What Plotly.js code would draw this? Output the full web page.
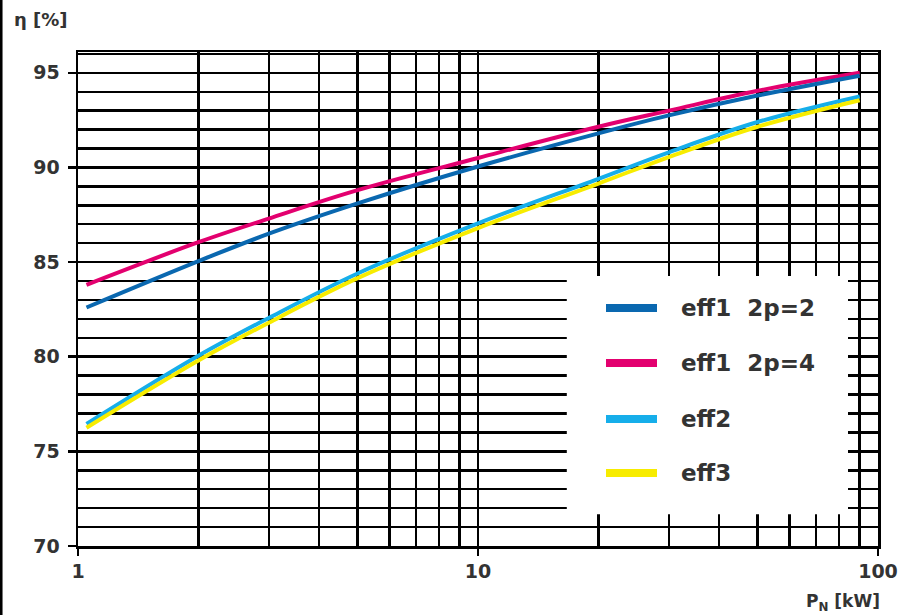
<!DOCTYPE html>
<html>
<head>
<meta charset="utf-8">
<script src="https://cdn.plot.ly/plotly-3.0.1.min.js"></script>
<style>html,body{margin:0;padding:0;background:#fff;}#chart{width:898px;height:615px;}</style>
</head>
<body>
<div id="chart"></div>
<script>
// Power [kW]
var powerKW = [1.05, 2, 3, 5, 10, 20, 30, 50, 90];
// Efficiency curves [%]
var eff1_2p2 = [82.6, 85.05, 86.5, 88.1, 90.05, 91.8, 92.75, 93.8, 94.85];
var eff1_2p4 = [83.8, 86.05, 87.3, 88.8, 90.5, 92.15, 93.0, 94.05, 95.0];
var eff2 = [76.45, 80.05, 82.05, 84.4, 87.05, 89.4, 90.8, 92.4, 93.75];
var eff3 = [76.25, 79.8, 81.8, 84.15, 86.8, 89.15, 90.55, 92.15, 93.55];

var seriesNames = ["eff1\u00a0\u00a02p=2", "eff1\u00a0\u00a02p=4", "eff2", "eff3"];
var seriesColors = ["#0a68b0", "#e3006f", "#16aeea", "#f7ec00"];

var xTickVals = [1, 10, 100];
var xTickText = ["1", "10", "100"];
var xMinorVals = [2, 3, 4, 5, 6, 7, 8, 9, 20, 30, 40, 50, 60, 70, 80, 90];
var yTickVals = [70, 75, 80, 85, 90, 95];
var yMinorVals = [71, 72, 73, 74, 76, 77, 78, 79, 81, 82, 83, 84, 86, 87, 88, 89, 91, 92, 93, 94, 96];

function tr(y, i) {
  return {x: powerKW, y: y, type: "scatter", mode: "lines", name: seriesNames[i],
    line: {color: seriesColors[i], width: 4, shape: "spline", smoothing: 1}, showlegend: false};
}
// drawing order: pink under blue, cyan under yellow
var data = [tr(eff1_2p4, 1), tr(eff1_2p2, 0), tr(eff2, 2), tr(eff3, 3)];

var tickFont = {family: "DejaVu Sans", size: 19, color: "#333333", weight: "bold"};

var shapes = [
  // white legend panel covering grid
  {type: "rect", xref: "paper", yref: "y", x0: 0.611, x1: 0.9625, y0: 71.68, y1: 84.27,
   fillcolor: "#ffffff", line: {width: 0}, layer: "above"},
  // scan border on left edge
  {type: "line", xref: "paper", yref: "paper", x0: -0.0962, x1: -0.0962, y0: -0.15, y1: 1.12,
   line: {color: "#000", width: 3}}
];
var annotations = [
  {text: "η [%]", xref: "paper", yref: "paper", x: -0.082, y: 1.065, xanchor: "left", yanchor: "middle",
   showarrow: false, font: {family: "DejaVu Sans", size: 18, color: "#333333", weight: "bold"}},
  {text: "P<sub>N</sub> [kW]", xref: "paper", yref: "paper", x: 1.005, y: -0.115, xanchor: "right", yanchor: "middle",
   showarrow: false, font: {family: "DejaVu Sans", size: 17, color: "#333333", weight: "bold"}}
];
// manual legend (long thick line symbols)
var legRows = [308, 363, 419, 473];
for (var i = 0; i < seriesNames.length; i++) {
  var py = (546 - legRows[i]) / 494;
  shapes.push({type: "line", xref: "paper", yref: "paper", x0: (606 - 78) / 800, x1: (657 - 78) / 800,
    y0: py, y1: py, line: {color: seriesColors[i], width: 8}, layer: "above"});
  annotations.push({text: seriesNames[i], xref: "paper", yref: "paper", x: (679 - 78) / 800, y: py,
    xanchor: "left", yanchor: "middle", showarrow: false,
    font: {family: "DejaVu Sans", size: 23, color: "#333333", weight: "bold"}});
}

var layout = {
  width: 898, height: 615,
  margin: {l: 78, r: 20, t: 52, b: 69},
  paper_bgcolor: "#ffffff", plot_bgcolor: "#ffffff",
  showlegend: false,
  xaxis: {type: "log", range: [0, 2], tickmode: "array", tickvals: xTickVals, ticktext: xTickText,
    ticks: "outside", ticklen: 7, tickwidth: 2.5, tickcolor: "#000",
    showline: true, linecolor: "#000", linewidth: 2.5, mirror: true,
    showgrid: true, gridcolor: "#000", gridwidth: 2.5,
    minor: {tickmode: "array", tickvals: xMinorVals, showgrid: true, gridcolor: "#000", gridwidth: 2.5, ticks: ""},
    tickfont: tickFont, fixedrange: true},
  yaxis: {range: [70, 96.1], tickmode: "array", tickvals: yTickVals,
    ticks: "outside", ticklen: 8, tickwidth: 2.5, tickcolor: "#000", ticklabelstandoff: 4,
    showline: true, linecolor: "#000", linewidth: 2.5, mirror: true,
    showgrid: true, gridcolor: "#000", gridwidth: 2.5, zeroline: false,
    minor: {tickmode: "array", tickvals: yMinorVals, showgrid: true, gridcolor: "#000", gridwidth: 2.5, ticks: ""},
    tickfont: tickFont, fixedrange: true},
  shapes: shapes,
  annotations: annotations
};
Plotly.newPlot("chart", data, layout, {staticPlot: true, displayModeBar: false});
</script>
</body>
</html>
